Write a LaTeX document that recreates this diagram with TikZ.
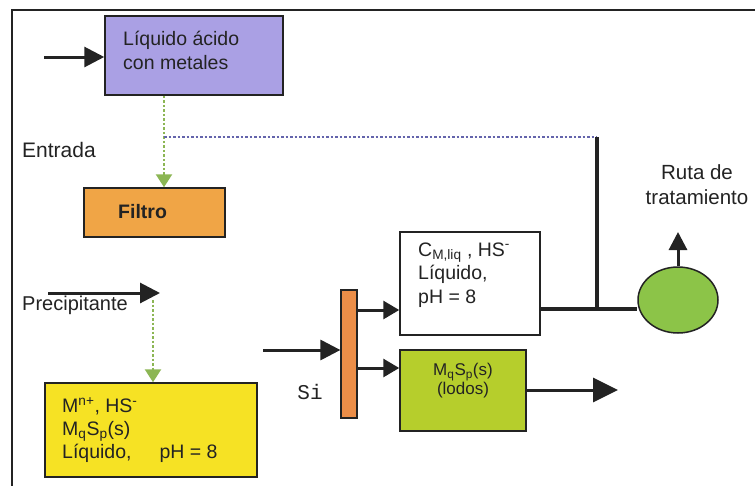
\documentclass[tikz,border=0pt]{standalone}
\usepackage{fontspec}
\setmainfont{Liberation Sans}
\setmonofont{Liberation Mono}
\usetikzlibrary{arrows.meta,shapes.geometric}
\definecolor{cpurple}{RGB}{170,160,228}
\definecolor{corange}{RGB}{240,165,70}
\definecolor{cyellow}{RGB}{246,226,36}
\definecolor{cgreenbox}{RGB}{182,206,44}
\definecolor{cellipse}{RGB}{140,196,72}
\definecolor{cbar}{RGB}{236,142,72}
\definecolor{cgdot}{RGB}{140,182,84}
\definecolor{cbdot}{RGB}{100,100,172}
\definecolor{cline}{RGB}{35,35,35}
\begin{document}
\begin{tikzpicture}[x=1pt,y=-1pt,
  box/.style={draw=cline, line width=1.5pt, inner sep=0pt},
  txt/.style={inner sep=0pt, anchor=west, align=left, text=cline,
              font=\fontsize{19.5}{24}\selectfont},
  blk/.style={draw=cline, line width=3pt, -{Triangle[length=20pt,width=20pt]}},
  gdot/.style={draw=cgdot, line width=2.5pt, dotted,
               -{Triangle[length=13pt,width=16pt,fill=cgdot]}}
]
\useasboundingbox[fill=white] (0,0) rectangle (755,485);
% frame
\draw[cline, line width=2pt] (12,490) -- (12,10) -- (760,10);

% boxes
\node[box, fill=cpurple, minimum width=178pt, minimum height=79pt] (liq) at (194,55.5) {};
\node[box, fill=corange, minimum width=141pt, minimum height=49pt] (filtro) at (154.5,212.5) {};
\node[box, fill=cyellow, minimum width=212pt, minimum height=94pt] (mix) at (151,430) {};
\node[box, fill=cbar, line width=1.2pt, minimum width=16pt, minimum height=128pt] (bar) at (349,354) {};
\node[box, fill=white, minimum width=140pt, minimum height=103pt] (liqout) at (470,283.5) {};
\node[box, fill=cgreenbox, minimum width=126pt, minimum height=81pt] (lodos) at (463,390.5) {};
\node[ellipse, draw=cline, line width=1.5pt, fill=cellipse, minimum width=80pt, minimum height=66pt, inner sep=0pt] (ruta) at (678,300) {};

% texts
\node[txt] (tliq) at (123,50) {Líquido ácido\\con metales};
\node[txt, font=\fontsize{19.5}{24}\bfseries] (tfil) at (118,212) {Filtro};
\node[txt, font=\fontsize{19.5}{23}\selectfont] (tmix) at (62,430)
  {M\textsuperscript{n+}, HS\textsuperscript{-}\\M\textsubscript{q}S\textsubscript{p}(s)\\Líquido,\hspace{28pt}pH = 8};
\node[txt, font=\fontsize{19.5}{23.5}\selectfont] (tout) at (418,275)
  {C\textsubscript{M,liq} , HS\textsuperscript{-}\\Líquido,\\pH = 8};
\node[txt, anchor=center, align=center, font=\fontsize{17}{19}\selectfont] (tlod) at (463,381)
  {M\textsubscript{q}S\textsubscript{p}(s)\\(lodos)};
\node[txt, font=\fontsize{21}{24}\selectfont] (tent) at (22,150) {Entrada};
\node[txt, font=\fontsize{20}{24}\selectfont] (tpre) at (22,305) {Precipitante};
\node[txt, anchor=center, font=\ttfamily\fontsize{21}{22}\selectfont] (tsi) at (310,392) {Si};
\node[txt, anchor=center, align=center, font=\fontsize{20.5}{25}\selectfont] (truta) at (697,185) {Ruta de\\tratamiento};

% coordinates
\coordinate (inA) at (44,57);
\coordinate (gsplit) at (164,137);
\coordinate (vtop) at (597,137);
\coordinate (vjoin) at (597,309);
\coordinate (preA) at (48,293);
\coordinate (preB) at (160,293);
\coordinate (preC) at (153,300);
\coordinate (inbar) at (263,350);
\coordinate (lodout) at (618,390);
\coordinate (rutaup) at (678,232);

% connectors
\draw[blk] (inA) -- (liq.west |- inA);
\draw[gdot] (gsplit |- liq.south) -- (gsplit |- filtro.north);
\draw[cbdot, line width=2.5pt, dotted] (gsplit) -- (vtop);
\draw[cline, line width=4pt] (vtop) -- (vjoin);
\draw[cline, line width=4pt] (liqout.east |- vjoin) -- (ruta.west |- vjoin);
\draw[blk] (preA) -- (preB);
\draw[gdot] (preC) -- (preC |- mix.north);
\draw[blk] (inbar) -- (bar.west |- inbar);
\draw[blk, -{Triangle[length=16pt,width=18pt]}] (bar.east |- 0,310) -- (liqout.west |- 0,310);
\draw[blk, -{Triangle[length=16pt,width=18pt]}] (bar.east |- 0,368) -- (lodos.west |- 0,368);
\draw[blk, -{Triangle[length=25pt,width=24pt]}] (lodos.east |- lodout) -- (lodout);
\draw[blk, -{Triangle[length=18pt,width=18pt]}] (ruta.north) -- (rutaup);
\end{tikzpicture}
\end{document}
